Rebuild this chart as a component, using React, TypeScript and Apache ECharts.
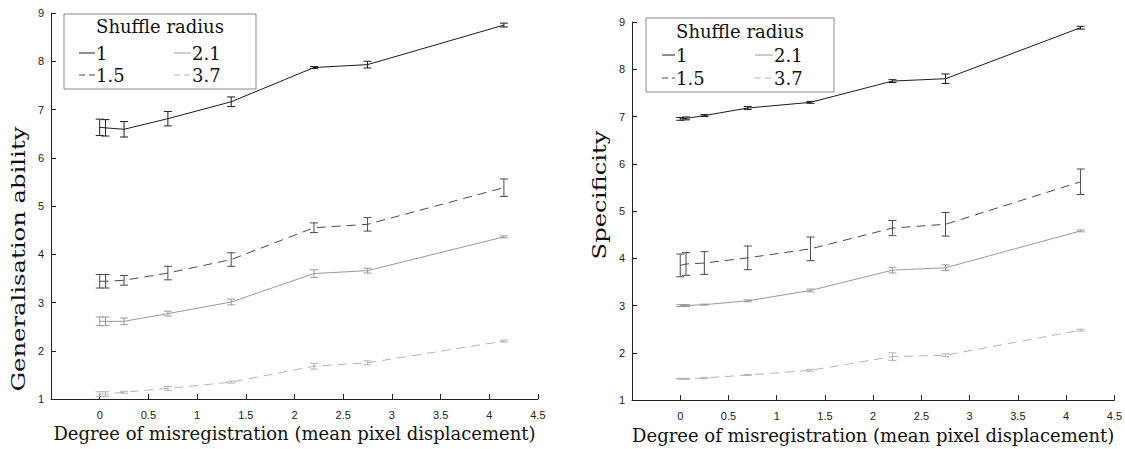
import React, { useEffect, useRef } from "react";
import * as echarts from "echarts";

// ---- Data ----
const xPositions = [0, 0.06, 0.25, 0.7, 1.35, 2.2, 2.75, 4.15];
const radiusLabels = ["1", "1.5", "2.1", "3.7"];
const xTickLabels = ["0", "0.5", "1", "1.5", "2", "2.5", "3", "3.5", "4", "4.5"];

// Generalisation ability (left)
const genR1 = [6.63, 6.62, 6.59, 6.81, 7.16, 7.87, 7.93, 8.75];
const genR1Err = [0.17, 0.17, 0.16, 0.15, 0.1, 0.02, 0.07, 0.04];
const genR15 = [3.44, 3.44, 3.46, 3.61, 3.89, 4.55, 4.62, 5.38];
const genR15Err = [0.14, 0.14, 0.1, 0.14, 0.14, 0.1, 0.14, 0.18];
const genR21 = [2.61, 2.61, 2.61, 2.77, 3.01, 3.6, 3.66, 4.36];
const genR21Err = [0.09, 0.09, 0.07, 0.05, 0.06, 0.08, 0.05, 0.02];
const genR37 = [1.1, 1.1, 1.14, 1.22, 1.35, 1.68, 1.75, 2.2];
const genR37Err = [0.05, 0.05, 0.02, 0.04, 0.02, 0.06, 0.04, 0.02];

// Specificity (right)
const specR1 = [6.95, 6.96, 7.02, 7.18, 7.3, 7.75, 7.8, 8.88];
const specR1Err = [0.03, 0.03, 0.02, 0.03, 0.02, 0.03, 0.1, 0.03];
const specR15 = [3.85, 3.88, 3.9, 4.01, 4.2, 4.64, 4.72, 5.62];
const specR15Err = [0.24, 0.24, 0.24, 0.25, 0.25, 0.16, 0.25, 0.27];
const specR21 = [3.0, 3.0, 3.02, 3.1, 3.32, 3.75, 3.8, 4.58];
const specR21Err = [0.02, 0.02, 0.01, 0.02, 0.03, 0.06, 0.06, 0.02];
const specR37 = [1.45, 1.45, 1.47, 1.53, 1.63, 1.92, 1.95, 2.48];
const specR37Err = [0.01, 0.01, 0.01, 0.01, 0.02, 0.08, 0.03, 0.02];

const genMeans = [genR1, genR15, genR21, genR37];
const genErrs = [genR1Err, genR15Err, genR21Err, genR37Err];
const specMeans = [specR1, specR15, specR21, specR37];
const specErrs = [specR1Err, specR15Err, specR21Err, specR37Err];

// ---- Styles ----
const seriesColors = ["#1c1c1c", "#4a4a4a", "#9a9a9a", "#b4b4b4"];
const seriesDash: any[] = ["solid", [9, 6], "solid", [9, 6]];
const serif = '"DejaVu Serif", serif';
const sans = '"Liberation Sans", Arial, sans-serif';
const textColor = "#111";

function buildSeries(means: number[][], errs: number[][], axisIndex: number) {
  const out: any[] = [];
  means.forEach((m, i) => {
    out.push({
      type: "line",
      name: radiusLabels[i],
      xAxisIndex: axisIndex,
      yAxisIndex: axisIndex,
      data: xPositions.map((x, k) => [x, m[k]]),
      symbol: "none",
      lineStyle: { color: seriesColors[i], width: 1, type: seriesDash[i] },
      z: 2,
    });
    out.push({
      type: "custom",
      name: radiusLabels[i] + " err",
      xAxisIndex: axisIndex,
      yAxisIndex: axisIndex,
      data: xPositions.map((x, k) => [x, m[k], errs[i][k]]),
      encode: { x: 0, y: 1 },
      z: 3,
      renderItem: (params: any, api: any) => {
        const x = api.value(0);
        const y = api.value(1);
        const e = api.value(2);
        const top = api.coord([x, y + e]);
        const bot = api.coord([x, y - e]);
        const w = 4;
        const style = { stroke: seriesColors[i], lineWidth: 1 };
        return {
          type: "group",
          children: [
            { type: "line", shape: { x1: top[0], y1: top[1], x2: bot[0], y2: bot[1] }, style },
            { type: "line", shape: { x1: top[0] - w, y1: top[1], x2: top[0] + w, y2: top[1] }, style },
            { type: "line", shape: { x1: bot[0] - w, y1: bot[1], x2: bot[0] + w, y2: bot[1] }, style },
          ],
        };
      },
    });
  });
  return out;
}

function xAxis(gridIndex: number, nameGap: number) {
  return {
    type: "value",
    gridIndex,
    min: -0.5,
    max: 4.5,
    interval: 0.5,
    axisLine: { show: true, onZero: false, lineStyle: { color: "#222", width: 1 } },
    axisTick: { show: true, inside: true, length: 5, lineStyle: { color: "#222" } },
    axisLabel: {
      color: "#222",
      fontFamily: sans,
      fontSize: 11,
      margin: 10,
      formatter: (v: number) => {
        const idx = Math.round(v / 0.5);
        return idx >= 0 && idx < xTickLabels.length ? xTickLabels[idx] : "";
      },
    },
    splitLine: { show: false },
    name: "Degree of misregistration (mean pixel displacement)",
    nameLocation: "middle",
    nameGap,
    nameTextStyle: { fontFamily: serif, fontSize: 18, color: textColor },
  };
}

function yAxis(gridIndex: number) {
  return {
    type: "value",
    gridIndex,
    min: 1,
    max: 9,
    interval: 1,
    axisLine: { show: true, onZero: false, lineStyle: { color: "#222", width: 1 } },
    axisTick: { show: true, inside: true, length: 5, lineStyle: { color: "#222" } },
    axisLabel: { color: "#222", fontFamily: sans, fontSize: 11, margin: 7 },
    splitLine: { show: false },
  };
}

function legendGraphic(bx: number, by: number, bw: number, bh: number, titleY: number, rowYs: number[], colX: number[][]) {
  const els: any[] = [
    {
      type: "rect",
      shape: { x: bx, y: by, width: bw, height: bh },
      style: { fill: "#fff", stroke: "#8a8a8a", lineWidth: 1 },
      z: 10,
    },
    {
      type: "text",
      x: bx + bw / 2,
      y: titleY,
      z: 11,
      style: {
        text: "Shuffle radius",
        font: `18px ${serif}`,
        fill: textColor,
        align: "center",
        verticalAlign: "middle",
        textAlign: "center",
        textVerticalAlign: "middle",
      },
    },
  ];
  radiusLabels.forEach((lab, i) => {
    const col = i < 2 ? 0 : 1;
    const row = i % 2;
    const [x1, x2] = colX[col];
    const y = rowYs[row];
    els.push({
      type: "line",
      z: 11,
      shape: { x1, y1: y, x2, y2: y },
      style: {
        stroke: seriesColors[i],
        lineWidth: 1,
        lineDash: seriesDash[i] === "solid" ? null : [6, 4],
      },
    });
    els.push({
      type: "text",
      x: x2 + 1,
      y: y,
      z: 11,
      style: {
        text: lab,
        font: `18px ${serif}`,
        fill: textColor,
        align: "left",
        verticalAlign: "middle",
        textAlign: "left",
        textVerticalAlign: "middle",
      },
    });
  });
  return els;
}

function yTitle(text: string, x: number, y: number) {
  return {
    type: "text",
    x,
    y,
    rotation: Math.PI / 2,
    scaleX: 1.35,
    z: 11,
    style: {
      text,
      font: `18px ${serif}`,
      fill: textColor,
      align: "center",
      verticalAlign: "middle",
      textAlign: "center",
      textVerticalAlign: "middle",
    },
  };
}

export default function App() {
  const ref = useRef<HTMLDivElement>(null);
  useEffect(() => {
    if (!ref.current) return;
    const chart = echarts.init(ref.current, null, { renderer: "svg" });
    const option: any = {
      animation: false,
      backgroundColor: "#fff",
      grid: [
        { left: 51, top: 13, width: 487, height: 386 },
        { left: 632, top: 22, width: 483, height: 379 },
      ],
      xAxis: [xAxis(0, 23), xAxis(1, 21)],
      yAxis: [yAxis(0), yAxis(1)],
      series: [...buildSeries(genMeans, genErrs, 0), ...buildSeries(specMeans, specErrs, 1)],
      graphic: [
        ...legendGraphic(64, 14, 192, 75, 26, [53, 75], [[79, 95], [174, 191]]),
        ...legendGraphic(646, 18, 188, 74, 31, [55, 78], [[662, 675], [755, 773]]),
        yTitle("Generalisation ability", 19, 259),
        yTitle("Specificity", 600, 195),
      ],
    };
    chart.setOption(option);
    return () => chart.dispose();
  }, []);
  return (
    <div
      ref={ref}
      style={{ position: "absolute", left: 0, top: 0, width: 1125, height: 449, background: "#fff" }}
    />
  );
}
